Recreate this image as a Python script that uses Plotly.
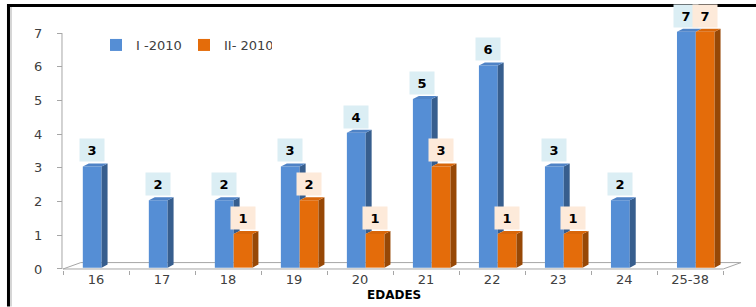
import plotly.graph_objects as go

# ---------------- data ----------------
categories = ["16", "17", "18", "19", "20", "21", "22", "23", "24", "25-38"]
serie_i = [3, 2, 2, 3, 4, 5, 6, 3, 2, 7]
serie_ii = [None, None, 1, 2, 1, 3, 1, 1, None, 7]
series_names = ["I -2010", "II- 2010"]
y_ticks = [0, 1, 2, 3, 4, 5, 6, 7]
x_title = "EDADES"

# ---------------- style ----------------
W, H = 756, 307
ML, MR, MT, MB = 63, 13.2, 28, 36.5
X_RANGE = [-0.5, 9.8]
Y_RANGE = [-0.03, 7.15]
PW = W - ML - MR
PH = H - MT - MB

FRONT = ["#558ED5", "#E46C0A"]
SIDE = ["#375E8E", "#974806"]
TOP = ["#4F83C6", "#D8660A"]
LABEL_BG = ["#DBEEF4", "#FDEADA"]
OFFSETS = [-0.2, 0.085]
BAR_W = 0.285
DEPTH_X = 0.09
DEPTH_Y = 0.09
LIFT = 0.04
FLOOR_X = 0.27
FLOOR_Y = 0.19
AXIS_GRAY = "#A6A6A6"
FONT = "DejaVu Sans"


def px_x(p):
    return (p - ML) / PW


def px_y(p):
    return (H - MB - p) / PH


fig = go.Figure()
all_series = [serie_i, serie_ii]
n = len(categories)

for s, vals in enumerate(all_series):
    # front faces as real bars
    fig.add_trace(go.Bar(
        x=list(range(n)), y=vals, base=LIFT, name=series_names[s],
        offset=OFFSETS[s], width=BAR_W,
        marker=dict(color=FRONT[s], line=dict(width=0)),
        hoverinfo="x+y",
    ))

for s, vals in enumerate(all_series):
    sx, sy, tx, ty = [], [], [], []
    for i, v in enumerate(vals):
        if v is None:
            continue
        x0 = i + OFFSETS[s]
        x1 = x0 + BAR_W
        top = v + LIFT
        low = LIFT
        if s == 0 and serie_ii[i] is not None:
            low = serie_ii[i] + LIFT
        if top > low:
            sx += [x1, x1, x1 + DEPTH_X, x1 + DEPTH_X, x1, None]
            sy += [low, top, top + DEPTH_Y, low + DEPTH_Y, low, None]
        tx += [x0, x1, x1 + DEPTH_X, x0 + DEPTH_X, x0, None]
        ty += [top, top, top + DEPTH_Y, top + DEPTH_Y, top, None]
    fig.add_trace(go.Scatter(x=sx, y=sy, mode="lines", fill="toself",
                             fillcolor=SIDE[s], line=dict(width=0),
                             showlegend=False, hoverinfo="skip"))
    fig.add_trace(go.Scatter(x=tx, y=ty, mode="lines", fill="toself",
                             fillcolor=TOP[s], line=dict(width=0),
                             showlegend=False, hoverinfo="skip"))

# data labels
annotations = []
for s, vals in enumerate(all_series):
    for i, v in enumerate(vals):
        if v is None:
            continue
        annotations.append(dict(
            x=i + OFFSETS[s] + BAR_W / 2, y=v + LIFT + DEPTH_Y,
            xref="x", yref="y", yanchor="bottom", yshift=1,
            text=f"<b>{v}</b>", showarrow=False,
            width=22, height=20, bgcolor=LABEL_BG[s],
            font=dict(family=FONT, size=13, color="#000000"),
        ))

annotations.append(dict(
    x=px_x(393.5), y=px_y(296), xref="paper", yref="paper",
    text=f"<b>{x_title}</b>", showarrow=False,
    font=dict(family=FONT, size=12, color="#000000"),
    xanchor="center", yanchor="middle",
))

shapes = [
    # floor
    dict(type="path", xref="x", yref="y", layer="below",
         path=(f"M{X_RANGE[0]},0 L{n - 0.5},0 L{n - 0.5 + FLOOR_X},{FLOOR_Y} "
               f"L{-0.5 + FLOOR_X},{FLOOR_Y} Z"),
         line=dict(color=AXIS_GRAY, width=1)),
    # value axis line
    dict(type="line", xref="paper", yref="y", x0=px_x(62), x1=px_x(62),
         y0=y_ticks[0], y1=y_ticks[-1], line=dict(color=AXIS_GRAY, width=1)),
    # frame
    dict(type="line", xref="paper", yref="paper", x0=px_x(8.5), x1=px_x(8.5),
         y0=px_y(4), y1=px_y(307), line=dict(color="#000000", width=3)),
    dict(type="line", xref="paper", yref="paper", x0=px_x(7), x1=px_x(756),
         y0=px_y(5.5), y1=px_y(5.5), line=dict(color="#000000", width=3)),
    dict(type="line", xref="paper", yref="paper", x0=px_x(11), x1=px_x(11),
         y0=px_y(7), y1=px_y(307), line=dict(color="#C8C8C8", width=1.5)),
]

fig.update_layout(
    width=W, height=H,
    margin=dict(l=ML, r=MR, t=MT, b=MB, pad=0),
    paper_bgcolor="white", plot_bgcolor="white",
    font=dict(family=FONT, size=13, color="#404040"),
    barmode="overlay",
    showlegend=True,
    legend=dict(orientation="h", x=px_x(96), y=px_y(30), xanchor="left",
                yanchor="top", entrywidth=43, entrywidthmode="pixels",
                font=dict(family=FONT, size=13, color="#404040"),
                bgcolor="rgba(0,0,0,0)", itemclick=False),
    annotations=annotations,
    shapes=shapes,
    xaxis=dict(range=X_RANGE, tickmode="array", tickvals=list(range(n)),
               ticktext=categories, ticks="", showgrid=False, zeroline=False,
               showline=False,
               minor=dict(tick0=-0.5, dtick=1, ticks="outside", ticklen=4,
                          tickcolor=AXIS_GRAY, showgrid=False),
               tickfont=dict(family=FONT, size=13, color="#404040")),
    yaxis=dict(range=Y_RANGE, tickmode="array", tickvals=y_ticks,
               ticks="outside", ticklen=5, tickcolor=AXIS_GRAY,
               showgrid=False, zeroline=False, showline=False,
               ticklabelstandoff=12,
               tickfont=dict(family=FONT, size=13, color="#404040")),
)

fig.write_html("out.html",
               config={"displayModeBar": False},
               post_script="document.body.style.margin='0';"
                           "document.body.style.overflow='hidden';")
